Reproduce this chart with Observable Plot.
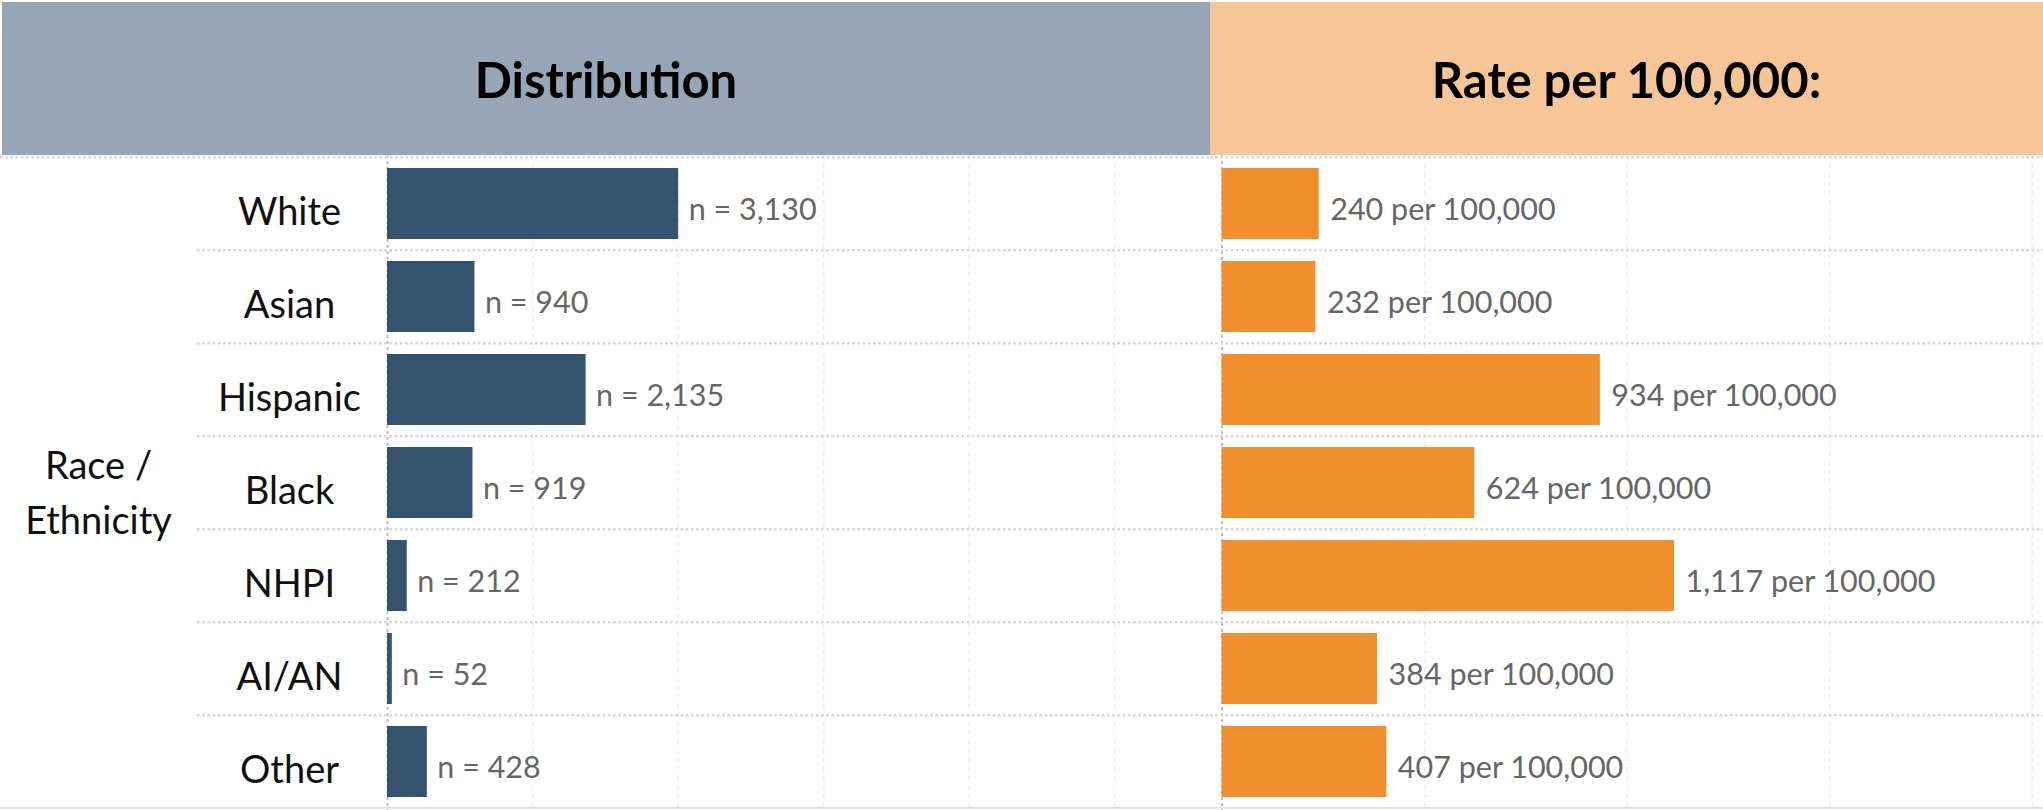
<!DOCTYPE html>
<html><head><meta charset="utf-8">
<script src="https://cdn.jsdelivr.net/npm/d3@7"></script>
<script src="https://cdn.jsdelivr.net/npm/@observablehq/plot@0.6"></script>
<style>
body{margin:0;background:#fff;font-family:Lato,sans-serif}
#wrap{position:relative;width:2043px;height:810px;overflow:hidden;background:#fff}
.hdr{position:absolute;top:2px;height:153px;display:flex;align-items:center;justify-content:center;font-weight:700;font-size:49px;color:#000;font-family:Lato,sans-serif}
#h1{left:2px;width:1208px;background:#97a6b7}
#h2{left:1210px;width:833px;background:#f7c697}
#left{position:absolute;left:0;top:150px}
#right{position:absolute;left:1210px;top:150px}
</style></head><body>
<div id="wrap">
<div class="hdr" id="h1"></div>
<div class="hdr" id="h2"></div>
<div id="left"></div><div id="right"></div>
</div>
<script>
const categories = ["White","Asian","Hispanic","Black","NHPI","AI/AN","Other"];
const counts = [3130,940,2135,919,212,52,428];
const rates = [240,232,934,624,1117,384,407];
const headerTitles = ["Distribution","Rate per 100,000:"];
const axisTitle = "Race /\nEthnicity";
const shareTicks = [0.2,0.4,0.6,0.8,1.0];
const rateTicks = [500,1000,1500,2000];

document.getElementById("h1").textContent = headerTitles[0];
document.getElementById("h2").textContent = headerTitles[1];

const total = d3.sum(counts);
const rows = categories.map((c,i)=>({category:c, count:counts[i], share:counts[i]/total, rate:rates[i]}));

const H = 660, MT = 5;
const step = (H - MT) / categories.length;
const yScale = {domain: categories, paddingInner: 0.24, paddingOuter: 0.12, axis: null};
const sepStyle = {stroke: "#d6d6d6", strokeWidth: 2.6, strokeDasharray: "2.6,2.6", dy: -step/2};
const gridStyle = {stroke: "#ebebeb", strokeWidth: 1.3, strokeDasharray: "4,5"};
const zeroStyle = {stroke: "#bdbdbd", strokeWidth: 2, strokeDasharray: "3,3"};
const lastCat = [categories[categories.length-1]];

const left = Plot.plot({
  width: 1210, height: H, marginTop: MT, marginBottom: 0, marginLeft: 387, marginRight: 0,
  style: {fontFamily: "Lato, sans-serif", background: "transparent", overflow: "visible"},
  x: {domain: [0, 1.132], axis: null},
  y: yScale,
  marks: [
    Plot.ruleX(shareTicks, gridStyle),
    Plot.ruleX([0], zeroStyle),
    Plot.ruleY(categories.slice(1), {...sepStyle, insetLeft: -190}),
    Plot.ruleY([categories[0]], {...sepStyle, insetLeft: -387}),
    Plot.ruleY(lastCat, {stroke: "#e0e0e0", strokeWidth: 2, dy: step/2 - 1, insetLeft: -387}),
    Plot.barX(rows, {y: "category", x: "share", fill: "#34536f"}),
    Plot.text(rows, {y: "category", x: "share", text: d => "n = " + d3.format(",")(d.count),
      textAnchor: "start", dx: 10, dy: 6, fontSize: 30.5, fill: "#666"}),
    Plot.text(rows, {y: "category", text: "category", frameAnchor: "left", textAnchor: "middle",
      dx: -98, dy: 8.5, fontSize: 38, fill: "#111"}),
    Plot.text([axisTitle], {frameAnchor: "left", textAnchor: "middle", dx: -289, dy: 6,
      lineHeight: 1.45, fontSize: 38, fill: "#111"})
  ]
});
document.getElementById("left").appendChild(left);

const right = Plot.plot({
  width: 833, height: H, marginTop: MT, marginBottom: 0, marginLeft: 11.5, marginRight: 0,
  style: {fontFamily: "Lato, sans-serif", background: "transparent", overflow: "visible"},
  x: {domain: [0, 2028], axis: null},
  y: yScale,
  marks: [
    Plot.ruleX(rateTicks, gridStyle),
    Plot.ruleX([0], zeroStyle),
    Plot.ruleY(categories, {...sepStyle, insetLeft: -11.5}),
    Plot.ruleY(lastCat, {stroke: "#e0e0e0", strokeWidth: 2, dy: step/2 - 1, insetLeft: -11.5}),
    Plot.barX(rows, {y: "category", x: "rate", fill: "#f28f2d"}),
    Plot.text(rows, {y: "category", x: "rate", text: d => d3.format(",")(d.rate) + " per 100,000",
      textAnchor: "start", dx: 11, dy: 6, fontSize: 30.5, fill: "#666"})
  ]
});
document.getElementById("right").appendChild(right);
</script>
</body></html>
